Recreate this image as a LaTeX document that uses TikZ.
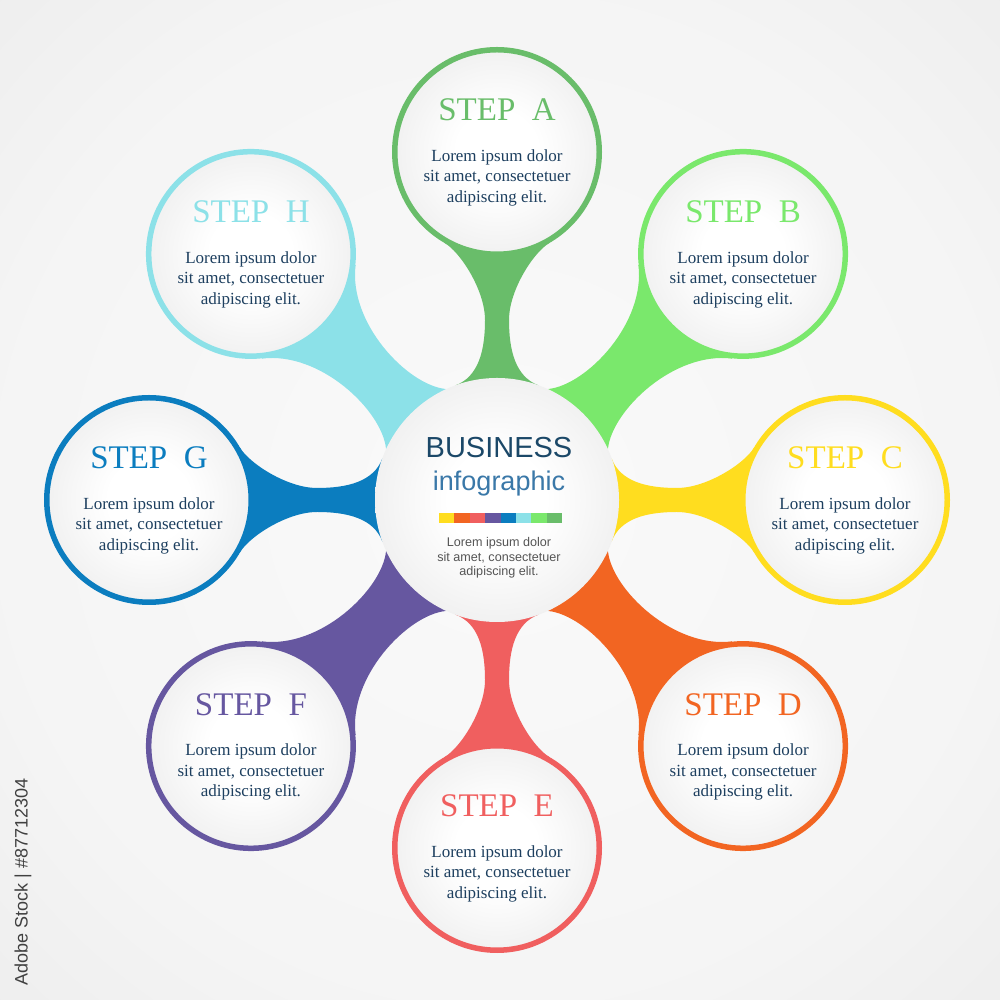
\documentclass[tikz,border=0pt]{standalone}
\usepackage{fontspec}
\setmainfont{Liberation Serif}
\newfontfamily\sansf{Liberation Sans}
\usetikzlibrary{calc}
\definecolor{cA}{HTML}{69BD6A}
\definecolor{cB}{HTML}{7AE86C}
\definecolor{cC}{HTML}{FFDD1F}
\definecolor{cD}{HTML}{F26522}
\definecolor{cE}{HTML}{F05F5F}
\definecolor{cF}{HTML}{6657A0}
\definecolor{cG}{HTML}{0B7DBF}
\definecolor{cH}{HTML}{8CE1E8}
\definecolor{navy}{HTML}{1D3F5F}
\definecolor{bizdark}{HTML}{1B4868}
\definecolor{bizlight}{HTML}{3A78A8}
\definecolor{bodygray}{HTML}{555555}
\pgfdeclareradialshading{bgshade}{\pgfpoint{0bp}{0bp}}{color(0bp)=(white!98!black); color(25bp)=(white!96!black); color(50bp)=(white!90!black); color(72bp)=(white!85!black)}
\pgfdeclareradialshading{discshade}{\pgfpoint{0bp}{0bp}}{color(0bp)=(white); color(10bp)=(white); color(32bp)=(white!92!black); color(50bp)=(white!81!black)}
% orthogonal neck (narrow waist)
\newcommand{\myneckO}[2]{%
  \fill[#2, shift={(497,500)}, rotate=#1] (0,0) -- (114.6,-41.7)
    .. controls (123.2,-18.2) and (150,-12) .. (180,-12)
    .. controls (210,-12) and (248.1,-36.9) .. (257.1,-52.5) -- (348,0) -- (257.1,52.5)
    .. controls (248.1,36.9) and (210,12) .. (180,12)
    .. controls (150,12) and (123.2,18.2) .. (114.6,41.7) -- cycle;
}
% diagonal neck (wide waist)
\newcommand{\myneckD}[2]{%
  \fill[#2, shift={(497,500)}, rotate=#1] (0,0) -- (115,-42)
    .. controls (145,-18) and (230,-20) .. (266,-66) -- (348,0) -- (266,66)
    .. controls (230,20) and (145,18) .. (115,42) -- cycle;
}
\newcommand{\mysat}[4]{%
  \coordinate (#1c) at ($(497,500)+(#2:348)$);
  \node[disc, draw=#3] (#1) at (#1c) {};
  \node[steptitle, text=#3] (#1t) at ($(#1c)+(0,31)$) {STEP\hspace{0.5em}#4};
  \node[bodytxt] (#1l1) at ($(#1c)+(0,-9.5)$) {Lorem ipsum dolor};
  \node[bodytxt] (#1l2) at ($(#1c)+(0,-30)$) {sit amet, consectetuer};
  \node[bodytxt] (#1l3) at ($(#1c)+(0,-50.5)$) {adipiscing elit.};
}
\begin{document}
\begin{tikzpicture}[x=1pt, y=1pt,
  disc/.style={circle, inner sep=0pt, minimum size=204.5pt, line width=5.5pt, shading=discshade},
  steptitle/.style={anchor=base, inner sep=0pt, font=\fontsize{33}{33}\selectfont},
  bodytxt/.style={anchor=base, inner sep=0pt, text=navy, font=\fontsize{17}{17}\selectfont},
  centertxt/.style={anchor=base, inner sep=0pt, text=bodygray, font=\sansf\fontsize{12.6}{12.6}\selectfont}]
\useasboundingbox (0,0) rectangle (1000,1000);
\shade[shading=bgshade] (0,0) rectangle (1000,1000);
% necks
\myneckO{90}{cA}
\myneckD{45}{cB}
\myneckO{0}{cC}
\myneckD{-45}{cD}
\myneckO{-90}{cE}
\myneckD{-135}{cF}
\myneckO{180}{cG}
\myneckD{135}{cH}
% center
\node[circle, inner sep=0pt, minimum size=244pt, shading=discshade] (center) at (497,500) {};
\node[anchor=base, inner sep=0pt, text=bizdark, font=\sansf\fontsize{29}{29}\selectfont] (biz) at (499,542) {BUSINESS};
\node[anchor=base, inner sep=0pt, text=bizlight, font=\sansf\fontsize{27}{27}\selectfont] (info) at (499,509) {infographic};
\foreach \c [count=\i from 0] in {cC,cD,cE,cF,cG,cH,cB,cA}
  \fill[\c] ({439+\i*15.375},477) rectangle ++(15.375,10);
\node[centertxt] (cl1) at (499,453) {Lorem ipsum dolor};
\node[centertxt] (cl2) at (499,438.5) {sit amet, consectetuer};
\node[centertxt] (cl3) at (499,424) {adipiscing elit.};
% satellites
\mysat{A}{90}{cA}{A}
\mysat{B}{45}{cB}{B}
\mysat{C}{0}{cC}{C}
\mysat{D}{-45}{cD}{D}
\mysat{E}{-90}{cE}{E}
\mysat{F}{-135}{cF}{F}
\mysat{G}{180}{cG}{G}
\mysat{H}{135}{cH}{H}
% stock label
\node[rotate=90, inner sep=0pt, text=black!75, font=\sansf\fontsize{18}{18}\selectfont] (stock) at (23,118) {Adobe Stock | \#87712304};
\end{tikzpicture}
\end{document}
